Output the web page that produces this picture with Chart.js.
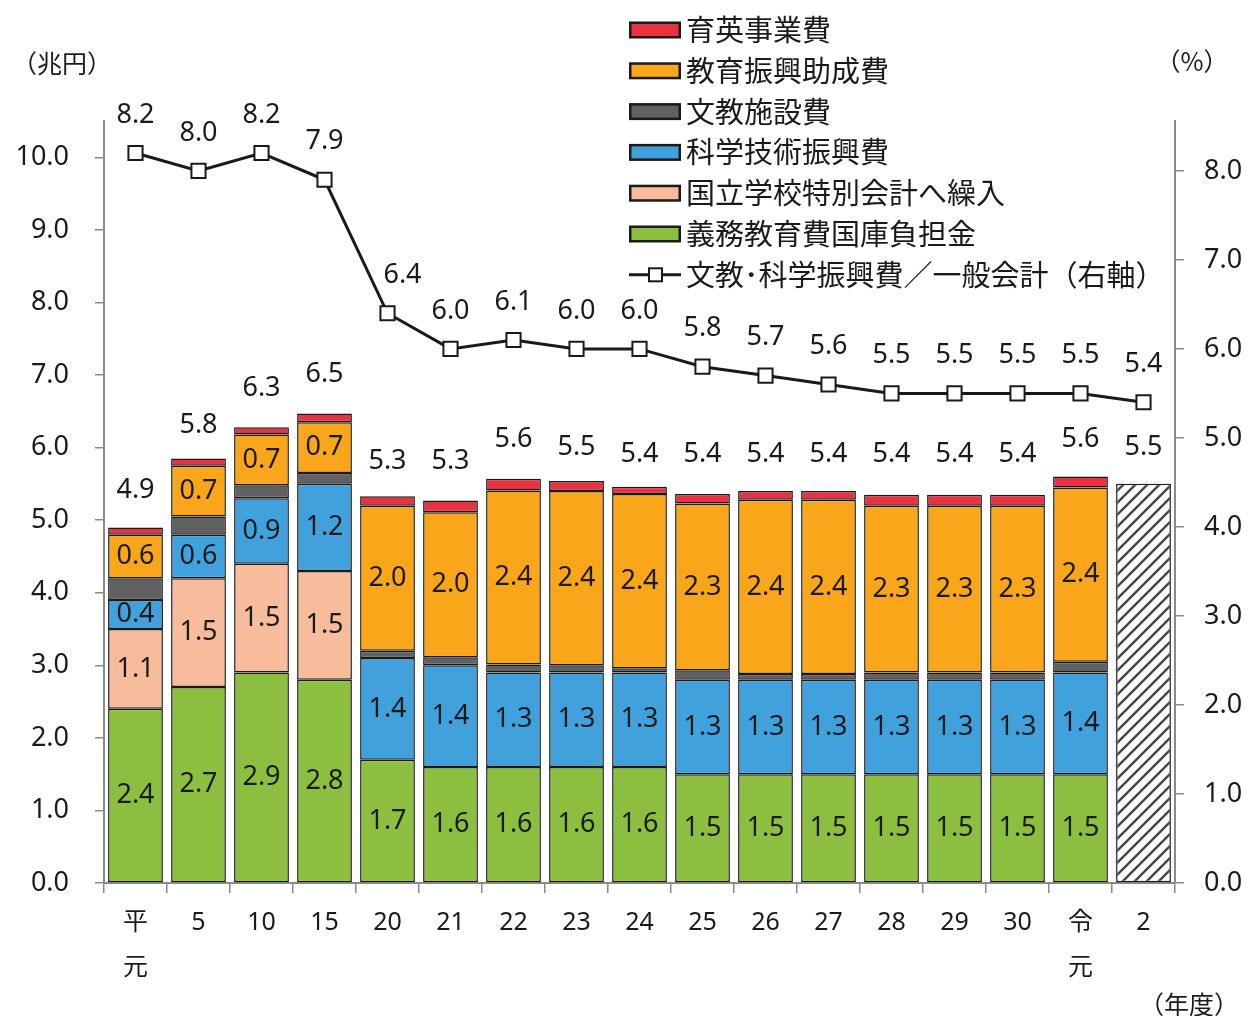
<!DOCTYPE html>
<html lang="ja">
<head>
<meta charset="utf-8">
<title>文教・科学振興費の推移</title>
<script src="https://cdn.jsdelivr.net/npm/chart.js@4.4.1/dist/chart.umd.min.js"></script>
<style>
  html, body { margin: 0; padding: 0; background: #fff; }
  #wrap { width: 1249px; height: 1016px; }
</style>
</head>
<body>
<div id="wrap"><canvas id="budgetChart" width="1249" height="1016"></canvas></div>
<script>
// 年度（平成元年度〜令和2年度）
const years = [['平', '元'], '5', '10', '15', '20', '21', '22', '23', '24', '25', '26', '27', '28', '29', '30', ['令', '元'], '2'];

// 内訳（兆円）、下から積み上げ順
const compulsoryEdu = [2.4, 2.7, 2.9, 2.8, 1.7, 1.6, 1.6, 1.6, 1.6, 1.5, 1.5, 1.5, 1.5, 1.5, 1.5, 1.5, null];   // 義務教育費国庫負担金
const nationalSchools = [1.1, 1.5, 1.5, 1.5, null, null, null, null, null, null, null, null, null, null, null, null, null]; // 国立学校特別会計へ繰入
const science = [0.4, 0.6, 0.9, 1.2, 1.4, 1.4, 1.3, 1.3, 1.3, 1.3, 1.3, 1.3, 1.3, 1.3, 1.3, 1.4, null];        // 科学技術振興費
const facilities = [0.3, 0.25, 0.18, 0.15, 0.1, 0.11, 0.11, 0.1, 0.06, 0.13, 0.08, 0.08, 0.1, 0.1, 0.1, 0.15, null]; // 文教施設費
const promotion = [0.6, 0.7, 0.7, 0.7, 2.0, 2.0, 2.4, 2.4, 2.4, 2.3, 2.4, 2.4, 2.3, 2.3, 2.3, 2.4, null];      // 教育振興助成費
const scholarship = [0.1, 0.1, 0.1, 0.12, 0.13, 0.16, 0.16, 0.14, 0.1, 0.13, 0.12, 0.12, 0.15, 0.15, 0.15, 0.15, null]; // 育英事業費

// 合計（兆円）と 文教・科学振興費／一般会計（%）
const totals = [4.9, 5.8, 6.3, 6.5, 5.3, 5.3, 5.6, 5.5, 5.4, 5.4, 5.4, 5.4, 5.4, 5.4, 5.4, 5.6, 5.5];
const shareOfGeneral = [8.2, 8.0, 8.2, 7.9, 6.4, 6.0, 6.1, 6.0, 6.0, 5.8, 5.7, 5.6, 5.5, 5.5, 5.5, 5.5, 5.4];

// 令和2年度は内訳なし（斜線）
const latestTotal = totals.map((v, i) => i === totals.length - 1 ? v : null);

const leftTicks = [0, 1, 2, 3, 4, 5, 6, 7, 8, 9, 10];
const rightTicks = [0, 1, 2, 3, 4, 5, 6, 7, 8];

const NUM_FONT = '"Noto Sans", "Noto Sans CJK JP", sans-serif';
const JP_FONT = '"Noto Sans CJK JP", sans-serif';
const INK = '#1a1a1a';
const AXIS = '#8a8a8a';

// 折れ線ラベルを線から避ける横ずれ（px）
const lineLabelShift = { 4: 15 };

function hatch() {
  const c = document.createElement('canvas');
  c.width = 12; c.height = 12;
  const g = c.getContext('2d');
  g.fillStyle = '#fff';
  g.fillRect(0, 0, 12, 12);
  g.strokeStyle = '#444';
  g.lineWidth = 2.4;
  g.beginPath();
  g.moveTo(-3, 15); g.lineTo(15, -3);
  g.moveTo(-9, 9); g.lineTo(9, -9);
  g.moveTo(3, 21); g.lineTo(21, 3);
  g.stroke();
  return g.createPattern(c, 'repeat');
}

const barStyle = {
  type: 'bar',
  yAxisID: 'y',
  stack: 'budget',
  borderColor: INK,
  borderWidth: 1.5,
  borderSkipped: false,
  barPercentage: 0.87,
  categoryPercentage: 1.0,
  order: 1
};

// 数値ラベル・凡例・軸単位
const annotate = {
  id: 'annotate',
  afterDatasetsDraw(chart) {
    const { ctx } = chart;
    const xs = chart.scales.x, ys = chart.scales.y;
    ctx.save();
    ctx.fillStyle = INK;
    ctx.textAlign = 'center';
    ctx.textBaseline = 'middle';
    ctx.font = '27px ' + NUM_FONT;

    chart.data.datasets.forEach((ds, di) => {
      if (!ds.showValues) return;
      chart.getDatasetMeta(di).data.forEach((bar, i) => {
        const v = ds.data[i];
        if (v == null) return;
        const p = bar.getProps(['x', 'y', 'base'], true);
        ctx.fillText(v.toFixed(1), p.x, (p.y + p.base) / 2);
      });
    });

    totals.forEach((v, i) => {
      ctx.fillText(v.toFixed(1), xs.getPixelForValue(i), ys.getPixelForValue(v) - 37);
    });

    const lineIdx = chart.data.datasets.findIndex(d => d.type === 'line');
    chart.getDatasetMeta(lineIdx).data.forEach((pt, i) => {
      ctx.fillText(shareOfGeneral[i].toFixed(1), pt.x + (lineLabelShift[i] || 0), pt.y - 38);
    });
    ctx.restore();
  },
  afterDraw(chart) {
    const { ctx } = chart;
    ctx.save();
    ctx.fillStyle = INK;
    ctx.textBaseline = 'middle';

    // legend, top entry first
    const items = chart.data.datasets.filter(d => d.legendRow != null)
      .sort((a, b) => a.legendRow - b.legendRow);
    ctx.font = '29px ' + JP_FONT;
    items.forEach((d) => {
      const y = 30 + d.legendRow * 40.8;
      if (d.type === 'line') {
        ctx.strokeStyle = INK;
        ctx.lineWidth = 3;
        ctx.beginPath();
        ctx.moveTo(629, y); ctx.lineTo(681, y);
        ctx.stroke();
        ctx.fillStyle = '#fff';
        ctx.lineWidth = 2;
        ctx.fillRect(649, y - 6.5, 13, 13);
        ctx.strokeRect(649, y - 6.5, 13, 13);
      } else {
        ctx.fillStyle = INK;
        ctx.fillRect(629, y - 8.5, 52, 17);
        ctx.fillStyle = d.backgroundColor;
        ctx.fillRect(631.5, y - 6, 47, 12);
      }
      ctx.fillStyle = INK;
      ctx.textAlign = 'left';
      ctx.fillText(d.label, 686, y);
    });

    ctx.font = '25px ' + JP_FONT;
    ctx.textAlign = 'center';
    ctx.fillText('（兆円）', 62, 63);
    ctx.fillText('（%）', 1192, 61);
    ctx.fillText('（年度）', 1189, 1004);
    ctx.restore();
  }
};

const ctx = document.getElementById('budgetChart').getContext('2d');

new Chart(ctx, {
  data: {
    labels: years,
    datasets: [
      { ...barStyle, label: '義務教育費国庫負担金', data: compulsoryEdu, backgroundColor: '#8cbf3f', showValues: true, legendRow: 5 },
      { ...barStyle, label: '国立学校特別会計へ繰入', data: nationalSchools, backgroundColor: '#f7bc9c', showValues: true, legendRow: 4 },
      { ...barStyle, label: '科学技術振興費', data: science, backgroundColor: '#41a1dc', showValues: true, legendRow: 3 },
      { ...barStyle, label: '文教施設費', data: facilities, backgroundColor: '#616161', legendRow: 2 },
      { ...barStyle, label: '教育振興助成費', data: promotion, backgroundColor: '#faa61a', showValues: true, legendRow: 1 },
      { ...barStyle, label: '育英事業費', data: scholarship, backgroundColor: '#e8323f', legendRow: 0 },
      { ...barStyle, label: '合計', data: latestTotal, backgroundColor: hatch() },
      {
        type: 'line',
        label: '文教･科学振興費／一般会計（右軸）',
        data: shareOfGeneral,
        yAxisID: 'y1',
        borderColor: INK,
        borderWidth: 3,
        pointStyle: 'rect',
        pointRadius: 10,
        pointBackgroundColor: '#fff',
        pointBorderColor: INK,
        pointBorderWidth: 2,
        tension: 0,
        order: 0,
        legendRow: 6
      }
    ]
  },
  options: {
    responsive: false,
    devicePixelRatio: 1,
    animation: false,
    layout: { padding: { top: 121, left: 0, right: 0, bottom: 0 } },
    plugins: {
      legend: { display: false },
      tooltip: { enabled: false }
    },
    scales: {
      x: {
        stacked: true,
        offset: true,
        border: { color: AXIS, width: 2 },
        grid: { offset: true, drawOnChartArea: false, drawTicks: true, tickLength: 10, color: AXIS, lineWidth: 1.5 },
        ticks: {
          color: INK,
          padding: 7,
          maxRotation: 0,
          autoSkip: false,
          font: { family: NUM_FONT, size: 25, lineHeight: 1.8 }
        },
        afterFit: s => { s.height = 133; }
      },
      y: {
        position: 'left',
        stacked: true,
        min: 0,
        max: 10.5,
        border: { color: AXIS, width: 2 },
        grid: { drawOnChartArea: false, tickLength: 9, color: AXIS, lineWidth: 1.5 },
        afterBuildTicks: s => { s.ticks = leftTicks.map(v => ({ value: v })); },
        ticks: {
          color: INK,
          padding: 26,
          font: { family: NUM_FONT, size: 27 },
          callback: v => v.toFixed(1)
        },
        afterFit: s => { s.width = 104; }
      },
      y1: {
        position: 'right',
        min: 0,
        max: 8.56,
        border: { color: AXIS, width: 2 },
        grid: { drawOnChartArea: false, tickLength: 9, color: AXIS, lineWidth: 1.5 },
        afterBuildTicks: s => { s.ticks = rightTicks.map(v => ({ value: v })); },
        ticks: {
          color: INK,
          padding: 20,
          font: { family: NUM_FONT, size: 27 },
          callback: v => v.toFixed(1)
        },
        afterFit: s => { s.width = 74; }
      }
    }
  },
  plugins: [annotate]
});
</script>
</body>
</html>
